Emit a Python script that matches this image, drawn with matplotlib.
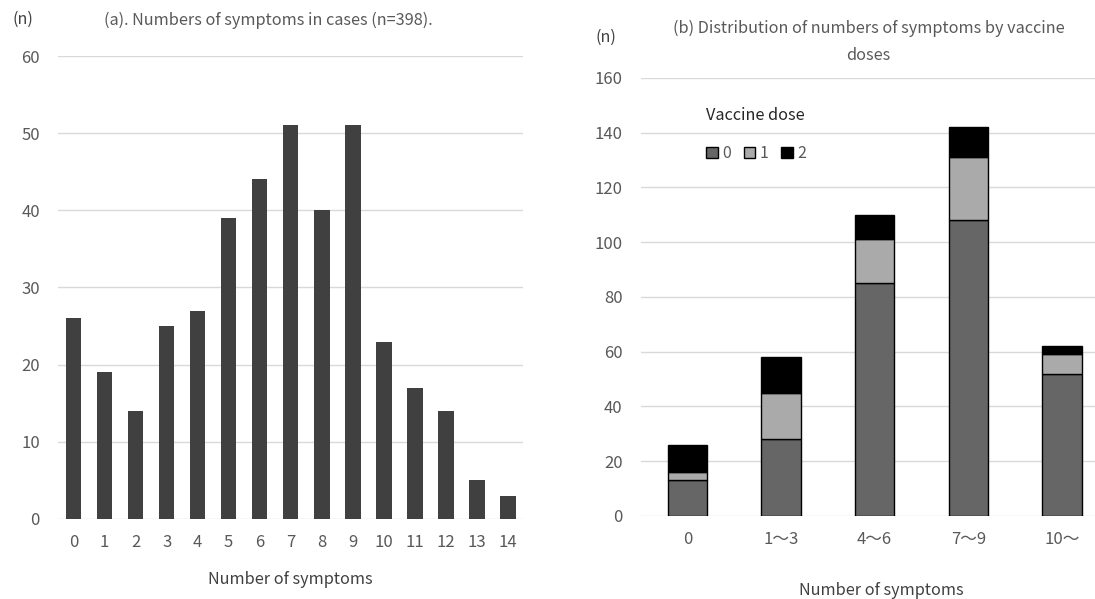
import numpy as np
import matplotlib
matplotlib.use('Agg')
import matplotlib.pyplot as plt
from matplotlib.patches import Patch

plt.rcParams['font.family'] = ['Noto Sans CJK JP', 'DejaVu Sans']

# (a) counts by number of symptoms
n_symptoms = [str(i) for i in range(15)]
cases = [26, 19, 14, 25, 27, 39, 44, 51, 40, 51, 23, 17, 14, 5, 3]

# (b) counts by symptom group and vaccine dose
groups = ['0', '1～3', '4～6', '7～9', '10～']
dose0 = [13, 28, 85, 108, 52]
dose1 = [3, 17, 16, 23, 7]
dose2 = [10, 13, 9, 11, 3]

text_col = '#595959'
grid_col = '#d9d9d9'

fig = plt.figure(figsize=(10.95, 5.99), dpi=100)

def style_axes(ax):
    for s in ax.spines.values():
        s.set_visible(False)
    ax.yaxis.grid(True, color=grid_col, linewidth=1)
    ax.set_axisbelow(True)
    ax.tick_params(length=0, labelsize=12, colors=text_col)

# left panel
ax1 = fig.add_axes([0.053, 0.1336, 0.425, 0.7729])
x1 = np.arange(len(cases))
ax1.bar(x1, cases, width=0.5, color='#404040')
ax1.set_xlim(-0.5, 14.5)
ax1.set_ylim(0, 60)
ax1.set_yticks(range(0, 61, 10))
ax1.set_xticks(x1)
ax1.set_xticklabels(n_symptoms)
style_axes(ax1)
ax1.tick_params(axis='x', pad=11)
ax1.tick_params(axis='y', pad=13)

fig.text(0.245, 0.966, '(a). Numbers of symptoms in cases (n=398).', ha='center', va='center',
         fontsize=11.7, color=text_col)
fig.text(0.021, 0.968, '(n)', ha='center', va='center', fontsize=11.5, color='#404040')
fig.text(0.265, 0.033, 'Number of symptoms', ha='center', va='center', fontsize=11.7, color='#404040')

# right panel
ax2 = fig.add_axes([0.585, 0.1386, 0.4275, 0.7312])
x2 = np.arange(len(groups))
w = 0.42
ax2.bar(x2, dose0, width=w, color='#666666', edgecolor='black', linewidth=1)
ax2.bar(x2, dose1, width=w, bottom=dose0, color='#aaaaaa', edgecolor='black', linewidth=1)
bottom2 = [a + b for a, b in zip(dose0, dose1)]
ax2.bar(x2, dose2, width=w, bottom=bottom2, color='black', edgecolor='black', linewidth=1)
ax2.set_xlim(-0.5, 4.5)
ax2.set_ylim(0, 160)
ax2.set_yticks(range(0, 161, 20))
ax2.set_xticks(x2)
ax2.set_xticklabels(groups)
style_axes(ax2)
ax2.tick_params(axis='x', pad=11)
ax2.tick_params(axis='y', pad=13)

handles = [Patch(facecolor='#666666', edgecolor='black'),
           Patch(facecolor='#aaaaaa', edgecolor='black'),
           Patch(facecolor='black', edgecolor='black')]
leg = ax2.legend(handles, ['0', '1', '2'], title='Vaccine dose', ncol=3, frameon=False,
                 loc='upper left', bbox_to_anchor=(0.632, 0.845), bbox_transform=fig.transFigure,
                 handlelength=0.7, handleheight=0.7, handletextpad=0.3, columnspacing=0.8,
                 labelspacing=1.3, fontsize=11.5, title_fontsize=11.7, alignment='left')
leg.get_title().set_color('#262626')
for t in leg.get_texts():
    t.set_color(text_col)

fig.text(0.793, 0.93, '(b) Distribution of numbers of symptoms by vaccine\ndoses', ha='center',
         va='center', fontsize=11.7, color=text_col, linespacing=1.8)
fig.text(0.553, 0.937, '(n)', ha='center', va='center', fontsize=11.5, color='#404040')
fig.text(0.805, 0.015, 'Number of symptoms', ha='center', va='center', fontsize=11.7, color='#404040')

fig.savefig('out.png', dpi=100)
